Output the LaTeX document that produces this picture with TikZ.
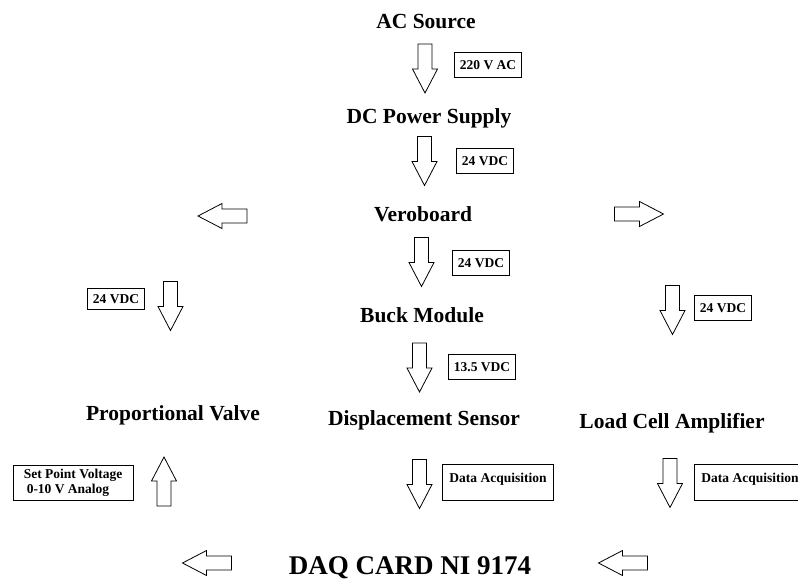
\documentclass[tikz,border=0pt]{standalone}
\usepackage{fontspec}
\setmainfont{Liberation Serif}
\tikzset{
  block/.style={font=\fontsize{21.5}{24}\selectfont\bfseries, inner sep=0pt, anchor=base},
  tag/.style={draw, line width=0.9pt, font=\fontsize{13.5}{15}\selectfont\bfseries,
    inner xsep=5pt, inner ysep=4pt, minimum height=25pt},
  daqtag/.style={tag, text height=10pt, text depth=10pt, inner xsep=7pt, inner ysep=8pt, minimum height=0pt},
  fatarrow/.pic={\draw[line width=0.8pt, fill=white] (-24.5,-7) -- (0.5,-7) -- (0.5,-12.5)
    -- (24.5,0) -- (0.5,12.5) -- (0.5,7) -- (-24.5,7) -- cycle;}
}
\begin{document}
\begin{tikzpicture}[x=1pt, y=-1pt]
    \useasboundingbox (0,0) rectangle (798,579);
    \clip (0,0) rectangle (798,579);
    % Blocks
    \node[block] (ac) at (426,28) {AC Source};
    \node[block] (dcps) at (429,123) {DC Power Supply};
    \node[block] (vero) at (423,221) {Veroboard};
    \node[block] (buck) at (422,322) {Buck Module};
    \node[block] (valve) at (173,420) {Proportional Valve};
    \node[block] (disp) at (424,425) {Displacement Sensor};
    \node[block] (loadcell) at (672,428) {Load Cell Amplifier};
    \node[block, font=\fontsize{27}{30}\selectfont\bfseries] (daq) at (410,574) {DAQ CARD NI 9174};
    % Tags
    \node[tag] (tagac) at (488,65) {220 V AC};
    \node[tag] (tagdc) at (485,161) {24 VDC};
    \node[tag] (tagvero) at (481,263) {24 VDC};
    \node[tag] (tagbuck) at (482,367) {13.5 VDC};
    \node[tag, minimum height=21pt] (tagleft) at (116,299) {24 VDC};
    \node[tag] (tagright) at (723,308) {24 VDC};
    \node[tag, align=left, minimum width=120pt] (tagset) at (73,483) {Set Point Voltage\\\hspace*{3pt}0-10 V Analog};
    \node[daqtag] (tagdisp) at (498,482) {Data Acquisition};
    \node[daqtag] (tagload) at (750,482) {Data Acquisition};
    % Arrows
    \pic[rotate=-90] at (425,68.5) {fatarrow};
    \pic[rotate=-90] at (424.5,161) {fatarrow};
    \pic[rotate=180] at (222.5,216) {fatarrow};
    \pic at (639,214) {fatarrow};
    \pic[rotate=-90] at (421.5,262) {fatarrow};
    \pic[rotate=-90] at (170.5,306) {fatarrow};
    \pic[rotate=-90] at (672.5,310) {fatarrow};
    \pic[rotate=-90] at (419.5,367.5) {fatarrow};
    \pic[rotate=90] at (164,481.5) {fatarrow};
    \pic[rotate=-90] at (419.5,484) {fatarrow};
    \pic[rotate=-90] at (670,483) {fatarrow};
    \pic[rotate=180] at (207,563) {fatarrow};
    \pic[rotate=180] at (623,563) {fatarrow};
\end{tikzpicture}
\end{document}
